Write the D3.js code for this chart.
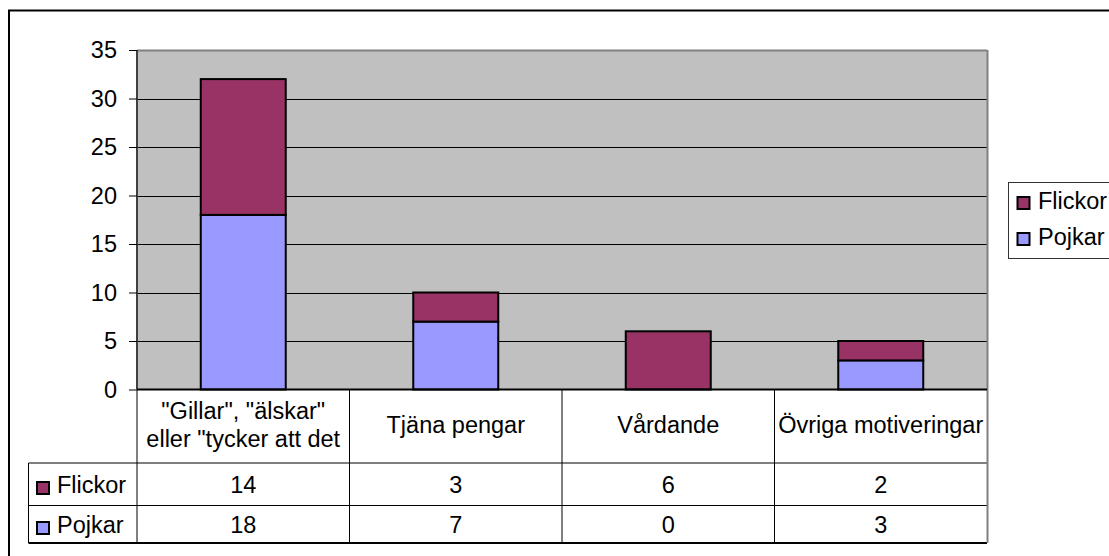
<!DOCTYPE html>
<html>
<head>
<meta charset="utf-8">
<script src="https://cdn.jsdelivr.net/npm/d3@7"></script>
<style>
  body { margin: 0; background: #fff; }
  svg { display: block; font-family: "Liberation Sans", Arial, sans-serif; }
</style>
</head>
<body>
<svg id="chart"></svg>
<script>
const categories = [["\"Gillar\", \"älskar\"", "eller \"tycker att det"], ["Tjäna pengar"], ["Vårdande"], ["Övriga motiveringar"]];
const seriesNames = ["Flickor", "Pojkar"];
const flickor = [14, 3, 6, 2];
const pojkar = [18, 7, 0, 3];
const yTicks = [0, 5, 10, 15, 20, 25, 30, 35];
const colors = { Flickor: "#993366", Pojkar: "#9999ff" };

const W = 1109, H = 556;
const FS = 23.5;
const plot = { left: 137, right: 987, top: 50, bottom: 389.5 };

const svg = d3.select("#chart").attr("width", W).attr("height", H);

// outer frame (runs off the right and bottom edge)
svg.append("rect")
    .attr("x", 9).attr("y", 10.5)
    .attr("width", W + 20).attr("height", H + 20)
    .attr("fill", "none").attr("stroke", "#000").attr("stroke-width", 2);

const idx = d3.range(categories.length);
const x = d3.scaleBand().domain(idx).range([plot.left, plot.right]);
const y = d3.scaleLinear().domain([0, 35]).range([plot.bottom, plot.top]);

svg.append("rect")
    .attr("x", plot.left).attr("y", plot.top)
    .attr("width", plot.right - plot.left).attr("height", plot.bottom - plot.top)
    .attr("fill", "#c0c0c0");

// gridlines
svg.append("g").selectAll("line")
    .data(yTicks.filter(d => d > 0 && d < 35))
    .join("line")
    .attr("x1", plot.left).attr("x2", plot.right)
    .attr("y1", d => Math.round(y(d)) + 0.5).attr("y2", d => Math.round(y(d)) + 0.5)
    .attr("stroke", "#000").attr("stroke-width", 1);

// plot border: top gray
svg.append("path")
    .attr("d", `M${plot.left},${plot.top + 0.5}H${plot.right}`)
    .attr("fill", "none").attr("stroke", "#808080").attr("stroke-width", 2);

// stacked bars
const stackData = idx.map(i => ({ i, Pojkar: pojkar[i], Flickor: flickor[i] }));
const stack = d3.stack().keys(["Pojkar", "Flickor"])(stackData);
const barW = x.bandwidth() * 0.4;

stack.forEach(layer => {
    svg.append("g").selectAll("rect")
        .data(layer.filter(d => d[1] - d[0] > 0))
        .join("rect")
        .attr("x", d => x(d.data.i) + (x.bandwidth() - barW) / 2)
        .attr("y", d => y(d[1]))
        .attr("width", barW)
        .attr("height", d => y(d[0]) - y(d[1]))
        .attr("fill", colors[layer.key])
        .attr("stroke", "#000").attr("stroke-width", 2);
});

// y axis
const yAxis = svg.append("g")
    .attr("transform", `translate(${plot.left},0)`)
    .call(d3.axisLeft(y).tickValues(yTicks).tickSize(8).tickPadding(12));
yAxis.select(".domain").attr("stroke", "#404040").attr("stroke-width", 2).attr("d", `M0,${plot.top}V${plot.bottom}`);
yAxis.selectAll(".tick line").attr("stroke", "#000");
yAxis.selectAll(".tick text").attr("font-size", FS).attr("font-family", "Liberation Sans, Arial, sans-serif").attr("fill", "#000");

// data table
const table = { left: 28.5, headerBottom: 463, row1Bottom: 505.5, bottom: 543 };
const tg = svg.append("g");
const lines = [];
idx.forEach(i => lines.push([x(i), plot.bottom, x(i), table.bottom]));
lines.push([table.left, table.headerBottom, table.left, table.bottom]);
lines.push([table.left, table.headerBottom, plot.right, table.headerBottom]);
lines.push([table.left, table.row1Bottom, plot.right, table.row1Bottom]);
tg.selectAll("line").data(lines).join("line")
    .attr("x1", d => d[0]).attr("y1", d => d[1]).attr("x2", d => d[2]).attr("y2", d => d[3])
    .attr("stroke", "#000").attr("stroke-width", 1);
tg.append("line")
    .attr("x1", table.left).attr("x2", plot.right)
    .attr("y1", table.bottom).attr("y2", table.bottom)
    .attr("stroke", "#000").attr("stroke-width", 2);
tg.append("line")
    .attr("x1", plot.right + 0.5).attr("x2", plot.right + 0.5)
    .attr("y1", plot.top).attr("y2", table.bottom)
    .attr("stroke", "#808080").attr("stroke-width", 2);
tg.append("line")
    .attr("x1", plot.left).attr("x2", plot.right)
    .attr("y1", plot.bottom).attr("y2", plot.bottom)
    .attr("stroke", "#000").attr("stroke-width", 2);

// header labels
idx.forEach(i => {
    const cx = x(i) + x.bandwidth() / 2;
    const labs = categories[i];
    const lh = 28;
    const y0 = 425 - (labs.length - 1) * lh / 2;
    labs.forEach((t, k) => {
        tg.append("text")
            .attr("x", cx).attr("y", y0 + k * lh)
            .attr("text-anchor", "middle").attr("dominant-baseline", "central")
            .attr("font-size", FS).text(t);
    });
});

// value rows
const rows = [
    { name: "Flickor", vals: flickor, cy: 485 },
    { name: "Pojkar", vals: pojkar, cy: 525 }
];
rows.forEach(r => {
    tg.append("rect")
        .attr("x", 37).attr("y", r.cy - 3).attr("width", 12).attr("height", 12)
        .attr("fill", colors[r.name]).attr("stroke", "#000").attr("stroke-width", 2);
    tg.append("text")
        .attr("x", 57).attr("y", r.cy).attr("dominant-baseline", "central")
        .attr("font-size", FS).text(r.name);
    r.vals.forEach((v, i) => {
        tg.append("text")
            .attr("x", x(i) + x.bandwidth() / 2).attr("y", r.cy)
            .attr("text-anchor", "middle").attr("dominant-baseline", "central")
            .attr("font-size", FS).text(v);
    });
});

// legend
const lg = svg.append("g");
lg.append("rect")
    .attr("x", 1008.5).attr("y", 182.5).attr("width", 120).attr("height", 76)
    .attr("fill", "#fff").attr("stroke", "#333").attr("stroke-width", 1);
seriesNames.forEach((s, k) => {
    const cy = 201 + k * 36;
    lg.append("rect")
        .attr("x", 1017.5).attr("y", cy - 4).attr("width", 12).attr("height", 12)
        .attr("fill", colors[s]).attr("stroke", "#000").attr("stroke-width", 2);
    lg.append("text")
        .attr("x", 1038).attr("y", cy).attr("dominant-baseline", "central")
        .attr("font-size", FS).text(s);
});
</script>
</body>
</html>
